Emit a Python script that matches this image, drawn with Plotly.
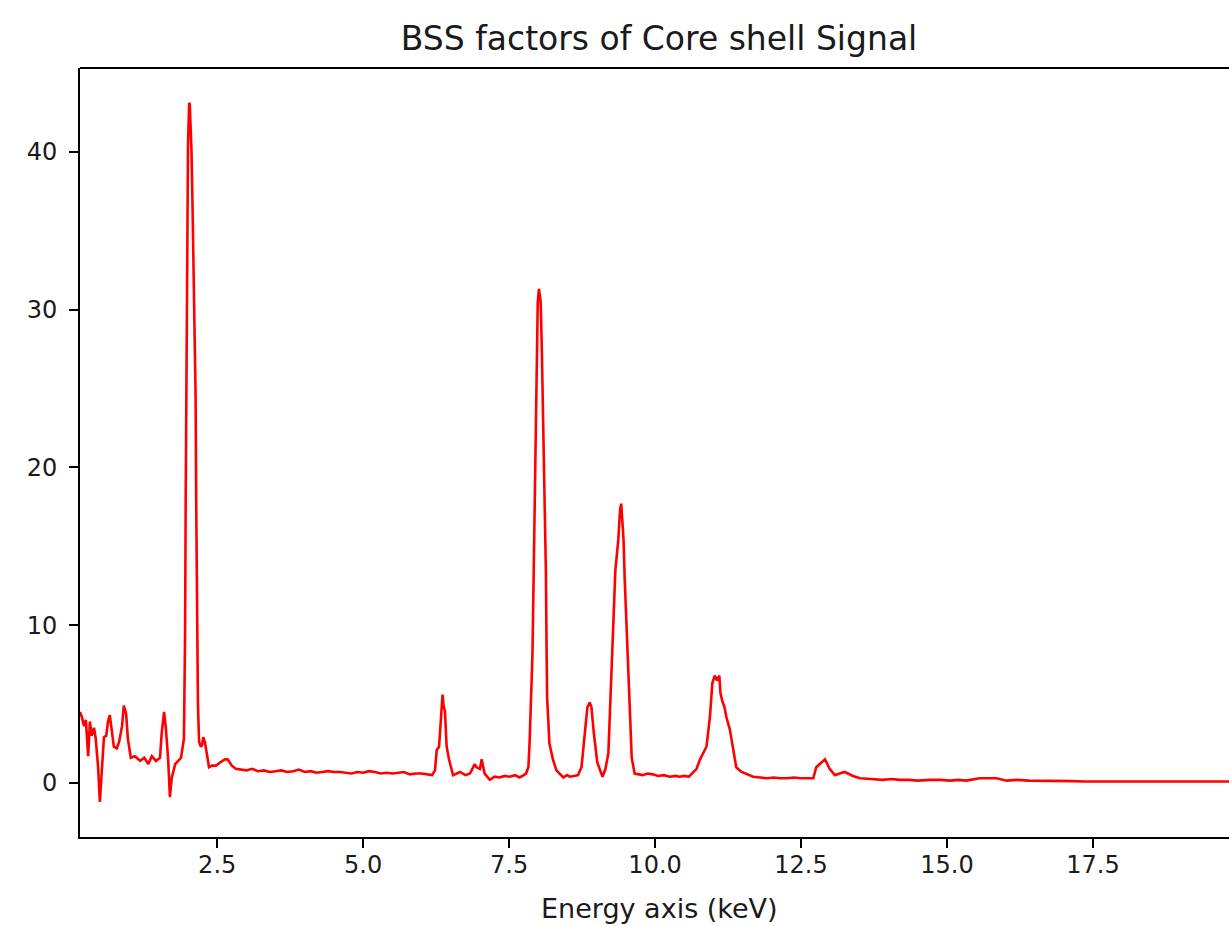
import plotly.graph_objects as go

# Energy (keV) and intensity values
energy_kev = [
    0.15, 0.18, 0.22, 0.25, 0.29, 0.32, 0.35, 0.39, 0.42, 0.46, 0.49, 0.53, 0.56, 0.60,
    0.63, 0.66, 0.70, 0.73, 0.78, 0.82, 0.87, 0.90, 0.94, 0.97, 1.02, 1.09, 1.18, 1.25,
    1.32, 1.38, 1.45, 1.52, 1.55, 1.59, 1.62, 1.66, 1.69, 1.72, 1.78, 1.83, 1.88, 1.93,
    1.94, 1.95, 1.96, 1.97, 1.98, 1.99, 2.00, 2.02, 2.03, 2.05, 2.06, 2.08, 2.09, 2.11,
    2.13, 2.14, 2.16, 2.17, 2.19, 2.22, 2.24,
    2.26, 2.29, 2.32, 2.36, 2.41, 2.48, 2.55, 2.63, 2.68, 2.75, 2.82,
    2.90, 3.00, 3.10, 3.20, 3.30, 3.40, 3.50, 3.60, 3.70, 3.80, 3.90, 4.00, 4.10, 4.20,
    4.30, 4.40, 4.50, 4.60, 4.70, 4.80, 4.90, 5.00, 5.10, 5.20, 5.30, 5.40, 5.50, 5.60,
    5.70, 5.80, 5.90, 6.00, 6.10, 6.18, 6.23,
    6.26, 6.30, 6.34, 6.36, 6.38, 6.40, 6.43, 6.47, 6.54, 6.60, 6.66, 6.75, 6.83, 6.91,
    6.94, 7.00, 7.03, 7.08, 7.17, 7.25, 7.34, 7.42, 7.51, 7.60, 7.68, 7.75, 7.79,
    7.83, 7.85, 7.90, 7.92, 7.94, 7.96, 7.97, 7.99, 8.01, 8.04, 8.06, 8.08, 8.11, 8.13,
    8.14, 8.15, 8.19, 8.25, 8.31, 8.37, 8.43, 8.49, 8.54, 8.61, 8.68, 8.74,
    8.80, 8.84, 8.88, 8.91, 8.95, 9.01, 9.10, 9.15,
    9.20, 9.25, 9.28, 9.32, 9.37, 9.40, 9.42, 9.46, 9.48, 9.51, 9.54, 9.57, 9.60, 9.65,
    9.72, 9.79, 9.87, 9.96, 10.05, 10.15, 10.25, 10.35, 10.42, 10.50, 10.58, 10.65,
    10.71, 10.77, 10.83, 10.88, 10.94, 10.98, 11.02, 11.06, 11.10, 11.12, 11.15, 11.19,
    11.22, 11.28, 11.34, 11.39, 11.48, 11.58, 11.68, 11.80, 11.92, 12.03, 12.14, 12.26,
    12.38, 12.50, 12.62, 12.71, 12.76, 12.85, 12.91, 12.99, 13.08, 13.16, 13.25, 13.39,
    13.51, 13.70, 13.90, 14.05, 14.19, 14.35, 14.50, 14.70, 14.88, 15.05, 15.20, 15.33,
    15.45, 15.56, 15.70, 15.85, 16.02, 16.20, 16.40, 16.60, 16.76, 16.95, 17.15, 17.35,
    17.62, 17.85, 18.10, 18.35, 18.55, 18.76, 19.00, 19.25, 19.50, 19.75, 19.95,
]
intensity = [
    4.5, 4.2, 3.6, 4.0, 1.7, 3.9, 3.0, 3.5, 2.8, 1.0, -1.2, 1.5, 2.9, 3.0,
    3.9, 4.3, 3.3, 2.3, 2.2, 2.6, 3.6, 4.9, 4.4, 2.8, 1.6, 1.7, 1.4, 1.6,
    1.2, 1.7, 1.4, 1.6, 3.2, 4.5, 3.5, 1.5, -0.9, 0.3, 1.2, 1.4, 1.6, 2.8,
    5.3, 9.5, 17.8, 25.0, 32.0, 38.0, 40.5, 43.1, 43.0, 41.0, 40.0, 36.0, 34.0, 30.4,
    24.5, 18.0, 10.0, 5.0, 2.6, 2.3, 2.4,
    2.9, 2.6, 1.8, 1.0, 1.1, 1.1, 1.3, 1.5, 1.5, 1.1, 0.9,
    0.85, 0.8, 0.9, 0.75, 0.8, 0.7, 0.75, 0.8, 0.7, 0.75, 0.85, 0.7, 0.75, 0.65,
    0.7, 0.75, 0.7, 0.7, 0.65, 0.6, 0.7, 0.65, 0.75, 0.7, 0.6, 0.65, 0.6, 0.65,
    0.7, 0.55, 0.6, 0.6, 0.55, 0.5, 0.8,
    2.1, 2.3, 4.4, 5.6, 4.8, 4.6, 2.3, 1.5, 0.5, 0.6, 0.7, 0.5, 0.6, 1.2,
    1.0, 0.9, 1.5, 0.6, 0.2, 0.4, 0.35, 0.45, 0.4, 0.5, 0.35, 0.5, 0.6,
    1.0, 2.5, 8.2, 13.7, 17.7, 23.4, 27.9, 30.4, 31.3, 30.5, 27.5, 23.6, 18.6, 13.3,
    9.1, 5.5, 2.5, 1.5, 0.8, 0.6, 0.35, 0.5, 0.4, 0.45, 0.5, 1.0,
    3.2, 4.8, 5.1, 4.8, 3.2, 1.3, 0.4, 0.9,
    1.9, 6.5, 9.7, 13.5, 15.4, 17.3, 17.7, 15.4, 12.9, 10.1, 6.5, 3.5, 1.6, 0.6,
    0.55, 0.5, 0.6, 0.55, 0.45, 0.5, 0.4, 0.45, 0.4, 0.45, 0.4, 0.7,
    0.9, 1.5, 1.9, 2.3, 4.2, 6.3, 6.8, 6.5, 6.8, 5.7, 5.2, 4.8,
    4.2, 3.4, 2.1, 1.0, 0.7, 0.55, 0.4, 0.35, 0.3, 0.35, 0.3, 0.3,
    0.35, 0.3, 0.3, 0.3, 1.0, 1.3, 1.5, 0.9, 0.5, 0.6, 0.7, 0.45,
    0.3, 0.25, 0.2, 0.25, 0.2, 0.2, 0.15, 0.2, 0.2, 0.15, 0.2, 0.15,
    0.25, 0.3, 0.3, 0.3, 0.15, 0.2, 0.15, 0.15, 0.15, 0.12, 0.12, 0.1,
    0.1, 0.1, 0.12, 0.1, 0.1, 0.1, 0.08, 0.1, 0.1, 0.08, 0.1,
]

x_tick_vals = [2.5, 5.0, 7.5, 10.0, 12.5, 15.0, 17.5]
x_tick_text = ["2.5", "5.0", "7.5", "10.0", "12.5", "15.0", "17.5"]
y_tick_vals = [0, 10, 20, 30, 40]
y_tick_text = ["0", "10", "20", "30", "40"]

FONT = "DejaVu Sans"
W, H = 1229, 926
L, R, T, B = 80, 0, 68, 89
TEXT = "#1a1a1a"

fig = go.Figure()
fig.add_trace(go.Scatter(
    x=energy_kev, y=intensity, mode="lines",
    line=dict(color="#ff0000", width=2.6), showlegend=False,
))

axis_common = dict(
    showgrid=False, zeroline=False,
    showline=True, linecolor="#000000", linewidth=1.8, mirror=False,
    ticks="outside", ticklen=9, tickwidth=1.8, tickcolor="#000000",
    tickfont=dict(family=FONT, size=24, color=TEXT),
)

fig.update_layout(
    width=W, height=H, autosize=False,
    margin=dict(l=L, r=R, t=T, b=B, pad=0),
    paper_bgcolor="white", plot_bgcolor="white",
    font=dict(family=FONT, size=24, color=TEXT),
    title=dict(
        text="BSS factors of Core shell Signal",
        font=dict(family=FONT, size=33, color=TEXT),
        x=659 / W, xref="container", xanchor="center",
        y=1 - 38 / H, yref="container", yanchor="middle",
    ),
    xaxis=dict(range=[0.15, 19.83], tickvals=x_tick_vals, ticktext=x_tick_text,
               ticklabelstandoff=-4, **axis_common),
    yaxis=dict(range=[-3.42, 45.3], tickvals=y_tick_vals, ticktext=y_tick_text,
               ticklabelstandoff=7, **axis_common),
    shapes=[dict(type="line", xref="paper", yref="paper", x0=0, x1=1.02, y0=1, y1=1,
                 line=dict(color="#000000", width=1.8))],
    annotations=[dict(
        text="Energy axis (keV)", xref="paper", yref="paper",
        x=(659 - L) / (W - L - R), y=-(908 - (H - B)) / (H - T - B),
        xanchor="center", yanchor="middle", showarrow=False,
        font=dict(family=FONT, size=27, color=TEXT),
    )],
)

fig.write_html("out.html")
